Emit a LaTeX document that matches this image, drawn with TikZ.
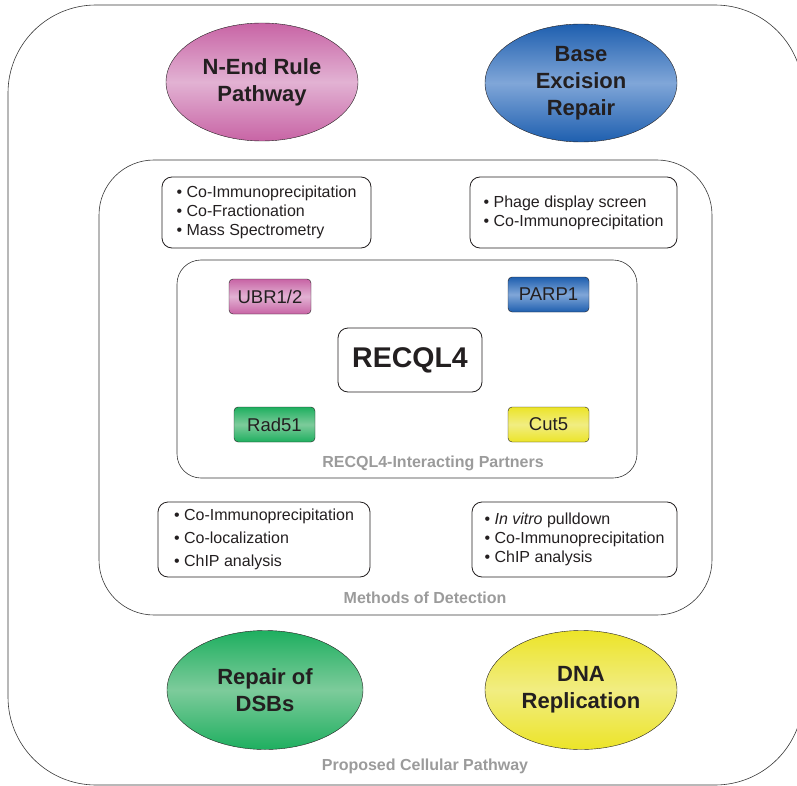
\documentclass[tikz,border=0pt]{standalone}
\usepackage{fontspec}
\setmainfont{Liberation Sans}
\usetikzlibrary{shapes.geometric}
\definecolor{pinkdark}{RGB}{200,100,165}
\definecolor{pinklight}{RGB}{226,178,211}
\definecolor{bluedark}{RGB}{30,95,175}
\definecolor{bluelight}{RGB}{128,166,216}
\definecolor{greendark}{RGB}{30,175,95}
\definecolor{greenlight}{RGB}{125,203,155}
\definecolor{yellowdark}{RGB}{236,228,40}
\definecolor{yellowlight}{RGB}{241,237,130}
\definecolor{labelgray}{RGB}{155,155,155}
\definecolor{linegray}{RGB}{55,55,55}
\definecolor{inkblack}{RGB}{35,31,32}

\begin{document}
\begin{tikzpicture}[x=1pt, y=-1pt,
  pathway/.style={draw=inkblack, ellipse, minimum width=192pt, minimum height=118pt, align=center, text=inkblack, font=\fontsize{22}{27}\selectfont\bfseries},
  partner/.style={draw=inkblack, rounded corners=4pt, minimum width=81pt, minimum height=35pt, text=inkblack, font=\fontsize{18.5}{20}\selectfont},
  methods/.style={draw=inkblack, thick, rounded corners=10pt, align=left, text=inkblack, font=\fontsize{16}{19}\selectfont},
  regionlabel/.style={text=labelgray, font=\fontsize{16}{19}\selectfont\bfseries},
  pinkfill/.style={top color=pinkdark, bottom color=pinkdark, middle color=pinklight},
  bluefill/.style={top color=bluedark, bottom color=bluedark, middle color=bluelight},
  greenfill/.style={top color=greendark, bottom color=greendark, middle color=greenlight},
  yellowfill/.style={top color=yellowdark, bottom color=yellowdark, middle color=yellowlight}]
\useasboundingbox (0,0) rectangle (797,786);

% nested frames
\draw[linegray, semithick, rounded corners=88pt] (8,5) rectangle (803,785);
\draw[linegray, semithick, rounded corners=55pt] (99,160) rectangle (712,615);
\draw[linegray, semithick, rounded corners=24pt] (177,260) rectangle (637,478);

% pathways
\node (nend) at (262,82) [pathway, pinkfill, minimum height=118pt] {N-End Rule\\Pathway};
\node (ber) at (581,83) [pathway, bluefill] {Base\\Excision\\Repair};
\node (dsb) at (265,690) [pathway, greenfill, minimum width=196pt, minimum height=119pt] {Repair of\\DSBs};
\node (rep) at (581,690) [pathway, yellowfill, minimum height=119pt] {DNA\\Replication};

% methods of detection
\node (mnend) at (266.5,212.5) [methods, minimum width=209pt, minimum height=71pt] {• Co-Immunoprecipitation\\• Co-Fractionation\\• Mass Spectrometry};
\node (mber) at (573.5,212.5) [methods, minimum width=207pt, minimum height=71pt] {• Phage display screen\\• Co-Immunoprecipitation};
\node (mdsb) at (264,539.5) [methods, minimum width=212pt, minimum height=75pt] {• Co-Immunoprecipitation\\[4pt]• Co-localization\\[4pt]• ChIP analysis};
\node (mrep) at (574.5,539.5) [methods, minimum width=205pt, minimum height=75pt] {• \textit{In vitro} pulldown\\• Co-Immunoprecipitation\\• ChIP analysis};

% interacting partners
\node (recql) at (410,360) [draw=inkblack, thick, rounded corners=10pt, fill=white, minimum width=144pt, minimum height=64pt, text=inkblack, font=\fontsize{28.5}{30}\selectfont\bfseries] {RECQL4};
\node (ubr) at (270,296.5) [partner, pinkfill, minimum width=82pt] {UBR1/2};
\node (parp) at (548.5,294.5) [partner, bluefill] {PARP1};
\node (rad) at (274.5,424.5) [partner, greenfill] {Rad51};
\node (cut) at (548.5,424.5) [partner, yellowfill] {Cut5};

% region names
\node (lpartners) at (433,463) [regionlabel] {RECQL4-Interacting Partners};
\node (lmethods) at (425,598) [regionlabel] {Methods of Detection};
\node (lpathway) at (425,766) [regionlabel] {Proposed Cellular Pathway};
\end{tikzpicture}
\end{document}
